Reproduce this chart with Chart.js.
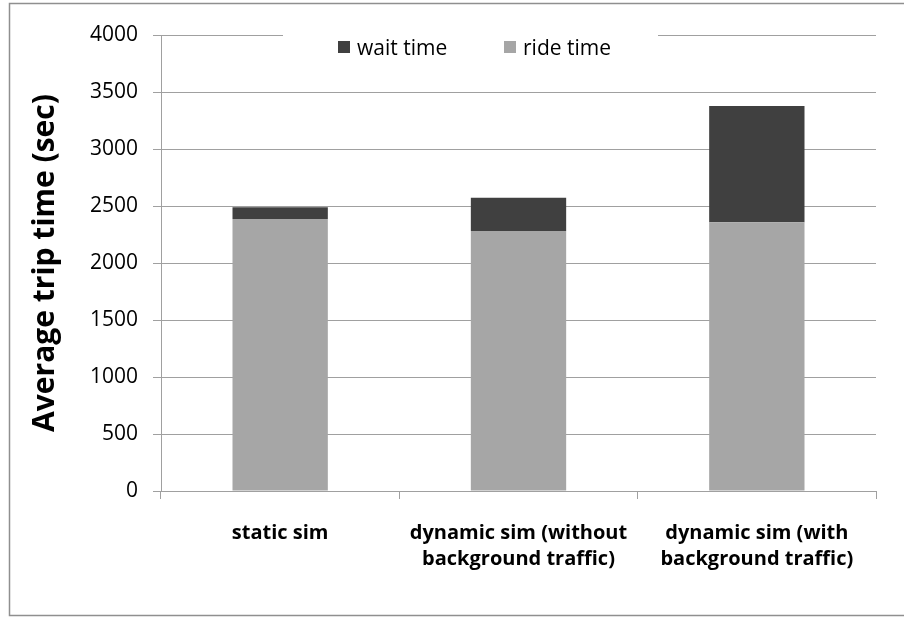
<!DOCTYPE html>
<html lang="en">
<head>
<meta charset="UTF-8">
<title>Average trip time</title>
<script src="https://cdn.jsdelivr.net/npm/chart.js"></script>
<style>
    body { margin: 0; background: #fff; overflow: hidden; }
    #box { width: 904px; height: 617px; position: relative; }
</style>
</head>
<body>
<div id="box"><canvas id="grafico"></canvas></div>

<script>
    // data
    const categorias = [
        ["static sim"],
        ["dynamic sim (without", "background traffic)"],
        ["dynamic sim (with", "background traffic)"]
    ];
    const rideTime = [2385, 2280, 2357];
    const waitTime = [105, 293, 1020];
    const yTicks = [0, 500, 1000, 1500, 2000, 2500, 3000, 3500, 4000];

    const corRide = "#a6a6a6";
    const corWait = "#404040";
    const corGrade = "#a0a0a0";

    // moldura em volta do grafico
    const moldura = {
        id: "moldura",
        beforeDraw(chart) {
            const c = chart.ctx;
            c.save();
            c.fillStyle = "#fff";
            c.fillRect(0, 0, chart.width, chart.height);
            c.strokeStyle = "#8f8f8f";
            c.lineWidth = 1.5;
            c.strokeRect(9.5, 3.5, chart.width + 20, 612);
            c.restore();
        }
    };

    // legenda dentro da area do grafico, por cima da linha de 4000
    const legendaDentro = {
        id: "legendaDentro",
        beforeDatasetsDraw(chart) {
            const c = chart.ctx;
            const area = chart.chartArea;
            c.save();
            c.fillStyle = "#fff";
            c.fillRect(283, area.top - 6, 375, 40);
            c.font = "21px 'Open Sans'";
            c.textBaseline = "alphabetic";
            const itens = [chart.data.datasets[1], chart.data.datasets[0]];
            const xs = [338, 504];
            itens.forEach(function (ds, i) {
                c.fillStyle = ds.backgroundColor;
                c.fillRect(xs[i], 41, 12, 12);
                c.fillStyle = "#000";
                c.fillText(ds.label, xs[i] + 19, 55);
            });
            c.restore();
        }
    };

    const config = {
        type: "bar",
        data: {
            labels: categorias,
            datasets: [
                {
                    label: "ride time",
                    data: rideTime,
                    backgroundColor: corRide,
                    barPercentage: 0.4,
                    categoryPercentage: 1
                },
                {
                    label: "wait time",
                    data: waitTime,
                    backgroundColor: corWait,
                    barPercentage: 0.4,
                    categoryPercentage: 1
                }
            ]
        },
        options: {
            responsive: true,
            maintainAspectRatio: false,
            animation: false,
            layout: { padding: { left: 0, top: 35, right: 28, bottom: 0 } },
            plugins: {
                legend: { display: false },
                tooltip: { enabled: false }
            },
            scales: {
                x: {
                    stacked: true,
                    grid: {
                        offset: true,
                        drawOnChartArea: false,
                        drawTicks: true,
                        tickLength: 8,
                        color: corGrade
                    },
                    border: { color: corGrade },
                    ticks: {
                        color: "#000",
                        padding: 21,
                        maxRotation: 0,
                        font: { family: "'Open Sans'", size: 20, weight: "bold", lineHeight: 1.3 }
                    },
                    afterFit(scale) { scale.height = 126; }
                },
                y: {
                    stacked: true,
                    min: 0,
                    max: 4000,
                    afterBuildTicks(scale) {
                        scale.ticks = yTicks.map(function (v) { return { value: v }; });
                    },
                    grid: { color: corGrade, tickLength: 8 },
                    border: { color: corGrade },
                    ticks: {
                        color: "#000",
                        padding: 15,
                        font: { family: "'Open Sans'", size: 21 },
                        callback: function (v) { return String(v); }
                    },
                    title: {
                        display: true,
                        text: "Average trip time (sec)",
                        color: "#000",
                        padding: { top: 27, bottom: 0 },
                        font: { family: "'Open Sans'", size: 30, weight: "bold", lineHeight: 1.2 }
                    },
                    afterFit(scale) { scale.width = 161; }
                }
            }
        },
        plugins: [moldura, legendaDentro]
    };

    const grafico = new Chart(document.getElementById("grafico"), config);
</script>
</body>
</html>
